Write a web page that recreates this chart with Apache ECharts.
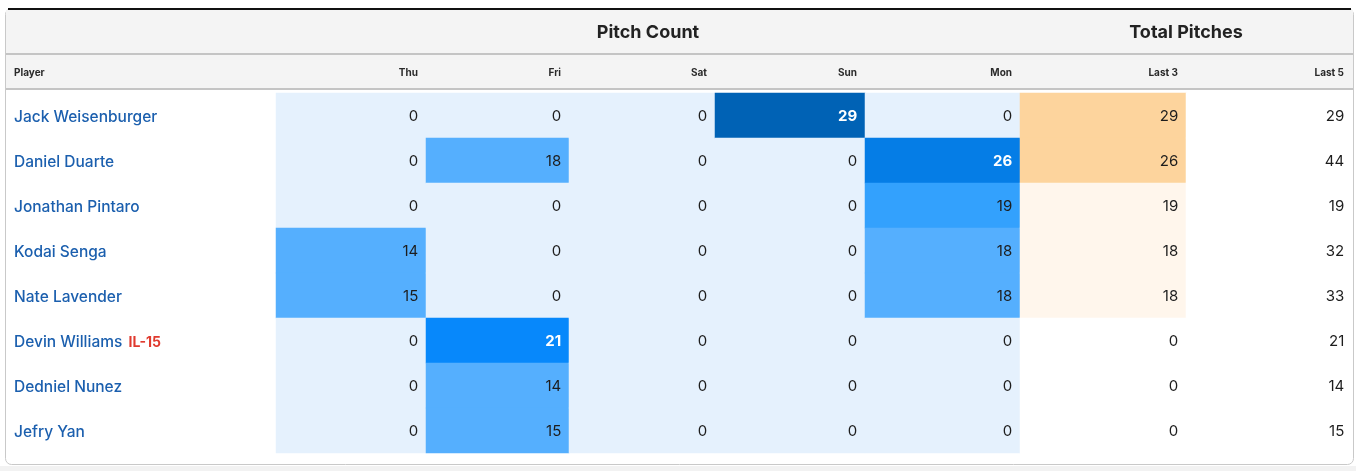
<!DOCTYPE html>
<html>
<head>
<meta charset="utf-8">
<script src="https://cdn.jsdelivr.net/npm/echarts@6/dist/echarts.min.js"></script>
<style>
html,body{margin:0;padding:0;background:#fff;}
#c{width:1356px;height:471px;}
</style>
</head>
<body>
<div id="c"></div>
<script>
// ---- data ----
var players = ['Jack Weisenburger','Daniel Duarte','Jonathan Pintaro','Kodai Senga','Nate Lavender','Devin Williams','Dedniel Nunez','Jefry Yan'];
var tags = ['', '', '', '', '', 'IL-15', '', ''];
var columns = ['Thu','Fri','Sat','Sun','Mon','Last 3','Last 5'];
var groupTitles = ['Pitch Count','Total Pitches'];
var thu = [0, 0, 0, 14, 15, 0, 0, 0];
var fri = [0, 18, 0, 0, 0, 21, 14, 15];
var sat = [0, 0, 0, 0, 0, 0, 0, 0];
var sun = [29, 0, 0, 0, 0, 0, 0, 0];
var mon = [0, 26, 19, 18, 18, 0, 0, 0];
var last3 = [29, 26, 19, 18, 18, 0, 0, 0];
var last5 = [29, 44, 19, 32, 33, 21, 14, 15];

// ---- layout (styling only) ----
var colEdges = [276, 426, 569, 715, 865, 1020, 1186, 1352];
var gridTop = 93, gridHeight = 360;
var colSeries = [thu, fri, sat, sun, mon, last3, last5];

var grids = [], xAxes = [], yAxes = [], series = [];
colSeries.forEach(function (vals, i) {
  grids.push({left: colEdges[i], top: gridTop, width: colEdges[i+1]-colEdges[i], height: gridHeight, containLabel: false});
  xAxes.push({type: 'category', gridIndex: i, data: [columns[i]], show: false});
  yAxes.push({
    type: 'category', gridIndex: i, data: players, inverse: true,
    show: i === 0,
    axisLine: {show: false}, axisTick: {show: false}, splitLine: {show: false},
    axisLabel: {
      show: i === 0, align: 'left', margin: colEdges[0] - 14,
      fontFamily: 'Inter', fontSize: 15.5, color: '#1b5fae', fontWeight: 500,
      padding: [4, 0, 0, 0],
      formatter: function (v, idx) {
        var t = tags[players.indexOf(v)];
        return t ? v + ' {tag|' + t + '}' : v;
      },
      rich: {tag: {color: '#e03a2e', fontWeight: 'bold', fontSize: 14, fontFamily: 'Inter', padding: [0, 0, 0, 2]}}
    }
  });
  series.push({
    type: 'heatmap', xAxisIndex: i, yAxisIndex: i,
    data: vals.map(function (v, r) {
      var dark = i < 5 && v >= 21;
      return {value: [0, r, v], label: {color: dark ? '#ffffff' : '#1d1d1d', fontWeight: dark ? 'bold' : 'normal'}};
    }),
    label: {show: true, position: 'insideRight', distance: 8, fontFamily: 'Inter', fontSize: 15, offset: [0, 1]},
    itemStyle: {borderWidth: 0},
    emphasis: {disabled: true}
  });
});

var headers = [];
columns.forEach(function (c, i) {
  headers.push({type: 'text', x: colEdges[i+1] - 8, y: 72.5, style: {text: c, align: 'right', verticalAlign: 'middle', font: 'bold 10px Inter', fill: '#2a2a2a'}});
});
headers.push({type: 'text', x: 14, y: 72.5, style: {text: 'Player', align: 'left', verticalAlign: 'middle', font: 'bold 10px Inter', fill: '#2a2a2a'}});
headers.push({type: 'text', x: (colEdges[0] + colEdges[5]) / 2, y: 33, style: {text: groupTitles[0], align: 'center', verticalAlign: 'middle', font: 'bold 18px Inter', fill: '#222'}});
headers.push({type: 'text', x: (colEdges[5] + colEdges[7]) / 2, y: 33, style: {text: groupTitles[1], align: 'center', verticalAlign: 'middle', font: 'bold 18px Inter', fill: '#222'}});

var graphic = [
  {type: 'rect', shape: {x: 0, y: 466, width: 1356, height: 6}, style: {fill: '#f2f2f2'}, z: -20},
  {type: 'rect', shape: {x: 5.5, y: 8.5, width: 1348, height: 456, r: 6}, style: {fill: '#ffffff', stroke: '#c9c9c9', lineWidth: 1}, z: -10},
  {type: 'rect', shape: {x: 6, y: 10, width: 1347, height: 78}, style: {fill: '#f4f4f4'}, z: -9},
  {type: 'rect', shape: {x: 8, y: 8, width: 1343, height: 2}, style: {fill: '#111'}, z: -8},
  {type: 'rect', shape: {x: 6, y: 53, width: 1347, height: 2}, style: {fill: '#c4c4c4'}, z: -8},
  {type: 'rect', shape: {x: 6, y: 88, width: 1347, height: 2}, style: {fill: '#c4c4c4'}, z: -8}
].concat(headers);

var chart = echarts.init(document.getElementById('c'));
chart.setOption({
  animation: false,
  grid: grids, xAxis: xAxes, yAxis: yAxes,
  visualMap: [
    {type: 'piecewise', show: false, seriesIndex: [0,1,2,3,4], dimension: 2,
     pieces: [
       {value: 0, color: '#e5f1fd'},
       {min: 1, max: 18, color: '#55affe'},
       {min: 19, max: 20, color: '#33a1fd'},
       {min: 21, max: 23, color: '#0788fb'},
       {min: 24, max: 27, color: '#057de6'},
       {min: 28, color: '#0062b5'}
     ]},
    {type: 'piecewise', show: false, seriesIndex: [5], dimension: 2,
     pieces: [
       {value: 0, color: '#ffffff'},
       {min: 1, max: 20, color: '#fff6ec'},
       {min: 21, color: '#fdd49d'}
     ]},
    {type: 'piecewise', show: false, seriesIndex: [6], dimension: 2,
     pieces: [{min: 0, color: '#ffffff'}]}
  ],
  graphic: graphic,
  series: series
});
</script>
</body>
</html>
